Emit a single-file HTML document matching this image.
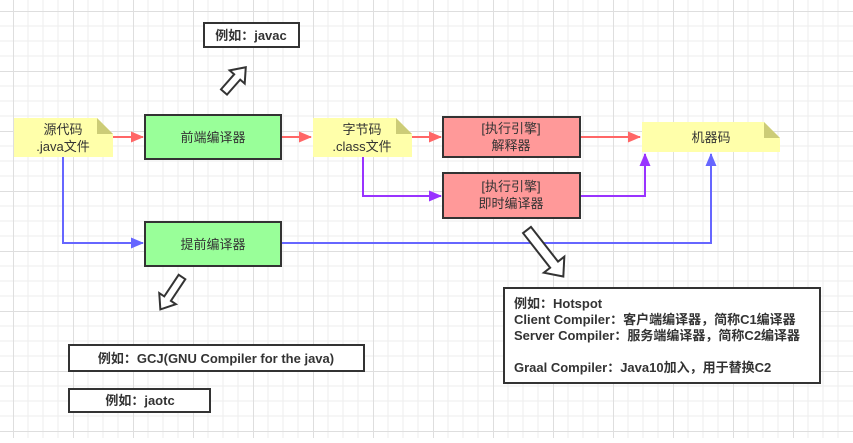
<!DOCTYPE html>
<html><head><meta charset="utf-8"><style>
html,body{margin:0;padding:0;background:#fff}
svg text{font-family:"Liberation Sans","Noto Sans CJK SC",sans-serif;fill:#333}
</style></head><body>
<svg width="853" height="438" viewBox="0 0 853 438" xmlns="http://www.w3.org/2000/svg">
<defs>
<pattern id="g" x="13" y="11" width="60" height="60" patternUnits="userSpaceOnUse">
<path d="M15 0V60M30 0V60M45 0V60M0 15H60M0 30H60M0 45H60" stroke="#eeeeee" stroke-width="1" fill="none"/>
<path d="M0.5 0V60M0 0.5H60" stroke="#dedede" stroke-width="1" fill="none"/>
</pattern>
<marker id="ar" markerWidth="13" markerHeight="11" refX="12" refY="5.5" orient="auto" markerUnits="userSpaceOnUse"><path d="M0,0 L13,5.5 L0,11Z" fill="#ff6666"/></marker>
<marker id="ap" markerWidth="13" markerHeight="11" refX="12" refY="5.5" orient="auto" markerUnits="userSpaceOnUse"><path d="M0,0 L13,5.5 L0,11Z" fill="#9933ff"/></marker>
<marker id="ab" markerWidth="13" markerHeight="11" refX="12" refY="5.5" orient="auto" markerUnits="userSpaceOnUse"><path d="M0,0 L13,5.5 L0,11Z" fill="#6666ff"/></marker>
</defs>
<rect width="853" height="438" fill="url(#g)"/>

<g fill="none" stroke-width="2">
<path d="M113 137H143" stroke="#ff6666" marker-end="url(#ar)"/>
<path d="M281 137H311" stroke="#ff6666" marker-end="url(#ar)"/>
<path d="M412 137H441" stroke="#ff6666" marker-end="url(#ar)"/>
<path d="M580 137H640" stroke="#ff6666" marker-end="url(#ar)"/>
<path d="M363 157V196H441" stroke="#9933ff" marker-end="url(#ap)"/>
<path d="M580 196H645V154" stroke="#9933ff" marker-end="url(#ap)"/>
<path d="M63 157V243H143" stroke="#6666ff" marker-end="url(#ab)"/>
<path d="M281 243H711V154" stroke="#6666ff" marker-end="url(#ab)"/>
</g>

<g>
<path d="M14 118H97L113 134V157H14Z" fill="#ffffaa"/><path d="M97 118L113 134H97Z" fill="#cccc77"/>
<text x="63" y="134" font-size="13" text-anchor="middle">源代码</text>
<text x="63" y="151" font-size="13" text-anchor="middle">.java文件</text>
<path d="M313 118H396L412 134V157H313Z" fill="#ffffaa"/><path d="M396 118L412 134H396Z" fill="#cccc77"/>
<text x="362" y="134" font-size="13" text-anchor="middle">字节码</text>
<text x="362" y="151" font-size="13" text-anchor="middle">.class文件</text>
<path d="M642 122H764L780 138V152H642Z" fill="#ffffaa"/><path d="M764 122L780 138H764Z" fill="#cccc77"/>
<text x="711" y="142" font-size="13" text-anchor="middle">机器码</text>
</g>

<g stroke="#333" stroke-width="2">
<rect x="145" y="115" width="136" height="44" fill="#99ff99"/>
<rect x="145" y="222" width="136" height="44" fill="#99ff99"/>
<rect x="443" y="117" width="137" height="40" fill="#ff9999"/>
<rect x="443" y="173" width="137" height="45" fill="#ff9999"/>
</g>
<text x="213" y="142" font-size="13" text-anchor="middle">前端编译器</text>
<text x="213" y="249" font-size="13" text-anchor="middle">提前编译器</text>
<text x="511" y="133" font-size="13" text-anchor="middle">[执行引擎]</text>
<text x="511" y="150" font-size="13" text-anchor="middle">解释器</text>
<text x="511" y="191" font-size="13" text-anchor="middle">[执行引擎]</text>
<text x="511" y="208" font-size="13" text-anchor="middle">即时编译器</text>

<g fill="#fff" stroke="#333" stroke-width="2" stroke-linejoin="miter">
<polygon transform="translate(224,92) rotate(-48.7)" points="0,-4 20,-4 20,-10 33,0 20,10 20,4 0,4"/>
<polygon transform="translate(527,230) rotate(52)" points="0,-5 44,-5 44,-13 59,0 44,13 44,5 0,5"/>
<polygon transform="translate(182,277) rotate(123.7)" points="0,-4 26,-4 26,-10 39,0 26,10 26,4 0,4"/>
</g>

<g fill="#fff" stroke="#333" stroke-width="2">
<rect x="204" y="23" width="95" height="24"/>
<rect x="504" y="288" width="316" height="95"/>
<rect x="69" y="345" width="295" height="26"/>
<rect x="69" y="389" width="141" height="23"/>
</g>
<g font-size="13" font-weight="bold">
<text x="251" y="40" text-anchor="middle">例如：javac</text>
<text x="216" y="363" text-anchor="middle">例如：GCJ(GNU Compiler for the java)</text>
<text x="140" y="405" text-anchor="middle">例如：jaotc</text>
<text x="514" y="308">例如：Hotspot</text>
<text x="514" y="324">Client Compiler：客户端编译器，简称C1编译器</text>
<text x="514" y="340">Server Compiler：服务端编译器，简称C2编译器</text>
<text x="514" y="372">Graal Compiler：Java10加入，用于替换C2</text>
</g>
</svg>
</body></html>
